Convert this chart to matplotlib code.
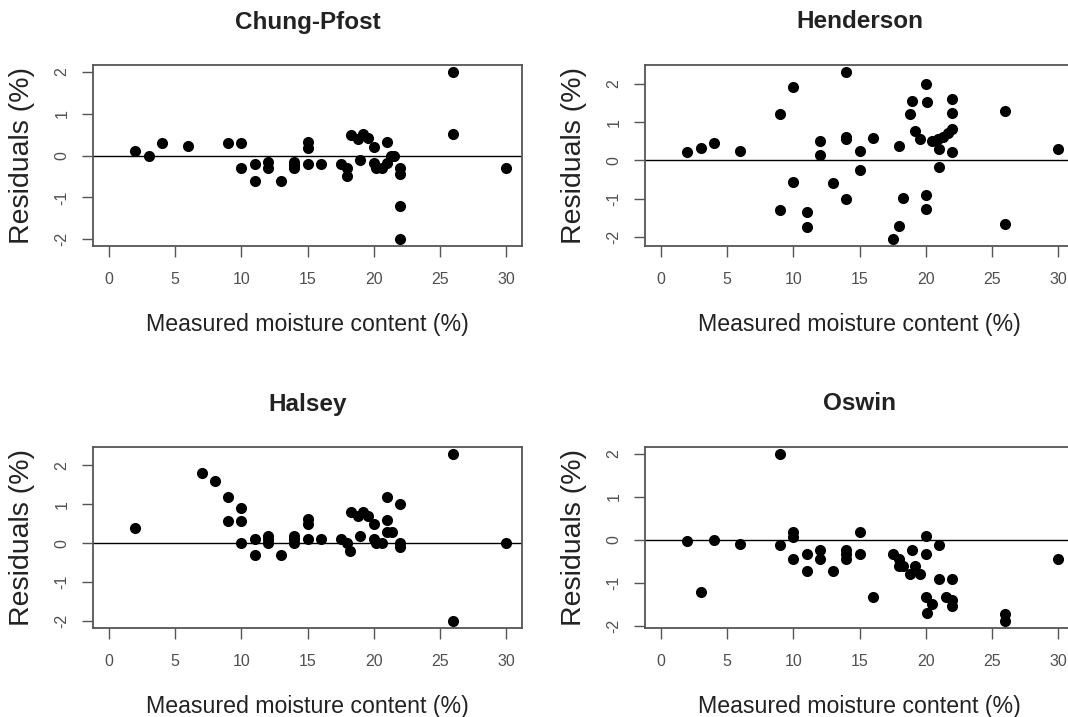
import matplotlib
matplotlib.use("Agg")
import matplotlib.pyplot as plt

plt.rcParams['font.family'] = ['Liberation Sans', 'DejaVu Sans']

titles = ["Chung-Pfost", "Henderson", "Halsey", "Oswin"]
xlabel = "Measured moisture content (%)"
ylabel = "Residuals (%)"
xticks = [0, 5, 10, 15, 20, 25, 30]
yticks = [-2, -1, 0, 1, 2]

cp_x = [2, 3, 4, 6, 9, 10, 10, 11, 11, 12, 12, 13, 14, 14, 14, 15, 15, 15, 16, 17.5,
        18, 18, 18.3, 18.8, 19, 19.2, 19.6, 20, 20, 20.2, 20.6, 21, 21, 21.3, 21.5,
        22, 22, 22, 22, 26, 26, 30]
cp_y = [0.1, 0.0, 0.3, 0.22, 0.31, 0.3, -0.3, -0.2, -0.6, -0.15, -0.3, -0.6, -0.15, -0.22,
        -0.3, 0.32, 0.18, -0.2, -0.2, -0.2, -0.29, -0.5, 0.5, 0.4, -0.1, 0.51, 0.42, 0.2,
        -0.18, -0.29, -0.29, 0.32, -0.18, 0.0, 0.0, -0.3, -0.44, -1.2, -2.0, 2.0, 0.51, -0.3]

he_x = [2, 3, 4, 6, 9, 9, 10, 10, 11, 11, 12, 12, 13, 14, 14, 14, 14, 15, 15, 16, 17.5,
        18, 18, 18.3, 18.8, 19, 19.2, 19.6, 20, 20.1, 20, 20, 20.5, 20.9, 21.3, 21.7, 22,
        21, 21, 22, 22, 22, 26, 26, 30]
he_y = [0.21, 0.32, 0.46, 0.25, -1.3, 1.21, 1.91, -0.57, -1.34, -1.74, 0.51, 0.15, -0.6,
        2.32, 0.62, 0.55, -1.0, 0.25, -0.26, 0.6, -2.06, -1.72, 0.38, -0.97, 1.21, 1.56,
        0.77, 0.56, 2.0, 1.53, -0.91, -1.26, 0.51, 0.55, 0.62, 0.73, 0.82, 0.3, -0.18,
        1.61, 1.23, 0.23, 1.3, -1.66, 0.29]

ha_x = [2, 7, 8, 9, 9, 10, 10, 10, 11, 11, 12, 12, 12, 13, 14, 14, 14, 15, 15, 15, 16,
        17.5, 18, 18.2, 18.3, 18.8, 19, 19.2, 19.6, 20, 20, 20.2, 20.6, 21, 21, 21, 21.4,
        22, 22, 22, 26, 26, 30]
ha_y = [0.4, 1.8, 1.59, 1.2, 0.58, 0.91, 0.58, 0.0, 0.1, -0.31, 0.2, 0.1, 0.0, -0.3, 0.2,
        0.1, 0.0, 0.62, 0.5, 0.1, 0.1, 0.1, 0.0, -0.2, 0.8, 0.7, 0.2, 0.8, 0.7, 0.5, 0.1,
        0.0, 0.0, 1.2, 0.6, 0.3, 0.3, 1.0, 0.0, -0.1, 2.3, -2.0, 0.0]

os_x = [2, 3, 4, 6, 9, 9, 10, 10, 10, 11, 11, 12, 12, 13, 14, 14, 14, 15, 15, 16, 17.5,
        18, 18, 18.3, 18.8, 19, 19.2, 19.6, 20, 20, 20, 20.1, 20.5, 21, 21, 21.5, 22, 22,
        22, 26, 26, 30]
os_y = [-0.04, -1.21, 0.0, -0.11, 2.0, -0.13, 0.18, 0.06, -0.44, -0.34, -0.73, -0.24,
        -0.44, -0.73, -0.24, -0.34, -0.44, 0.18, -0.34, -1.33, -0.33, -0.44, -0.62, -0.62,
        -0.81, -0.24, -0.62, -0.81, 0.08, -0.34, -1.33, -1.71, -1.5, -0.13, -0.92, -1.33,
        -0.92, -1.41, -1.55, -1.72, -1.9, -0.44]

series = [(cp_x, cp_y), (he_x, he_y), (ha_x, ha_y), (os_x, os_y)]

W, H = 1068, 717
fig = plt.figure(figsize=(W / 100, H / 100), dpi=100)

ax_w, ax_h = 429, 181
lefts = [93, 645, 93, 645]
tops = [65, 65, 447, 447]

for i, (title, (xs, ys)) in enumerate(zip(titles, series)):
    l, t = lefts[i], tops[i]
    ax = fig.add_axes([l / W, 1 - (t + ax_h) / H, ax_w / W, ax_h / H])
    ax.scatter(xs, ys, s=64, color='black', linewidths=0, zorder=3)
    ax.axhline(0, color='black', lw=1.0, zorder=2)
    ax.set_xlim(-1.2, 31.2)
    ax.set_ymargin(0.04)
    ax.autoscale_view()
    ax.set_xticks(xticks)
    ax.set_yticks(yticks)
    ax.set_yticklabels([str(v) for v in yticks], rotation=90, va='center')
    for sp in ax.spines.values():
        sp.set_color('#555555')
        sp.set_linewidth(1.3)
    ax.tick_params(axis='both', length=8, width=1.0, color='#555555',
                   labelsize=11.5, labelcolor='#505050')
    ax.tick_params(axis='x', pad=11)
    ax.tick_params(axis='y', pad=9)
    ax.set_xlabel(xlabel, fontsize=16.7, color='#222222')
    ax.xaxis.set_label_coords(0.5, -79 / ax_h)
    ax.xaxis.label.set_va('center')
    ax.set_ylabel(ylabel, fontsize=20.5, color='#222222')
    ax.yaxis.set_label_coords(-71 / ax_w, 0.5)
    ax.yaxis.label.set_va('center')
    ax.text(0.5, 1 + 43 / ax_h, title, transform=ax.transAxes, ha='center',
            va='center', fontsize=17.5, fontweight='bold', color='#222222')

fig.savefig("out.png", dpi=100)
